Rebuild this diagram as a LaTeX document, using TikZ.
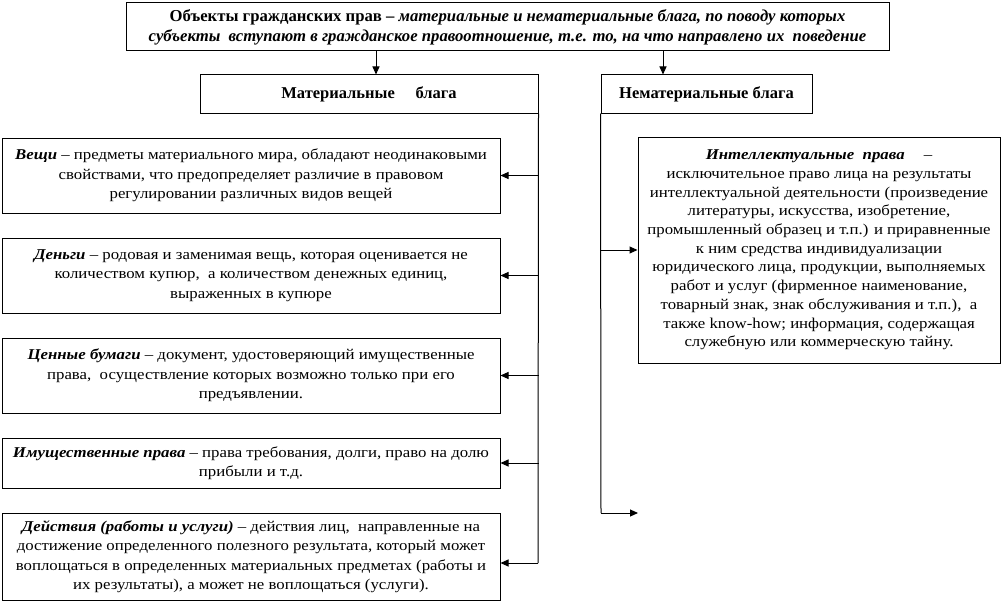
\documentclass[tikz,border=0pt]{standalone}
\usepackage{fontspec}
\setmainfont{Liberation Serif}
\newfontfamily\widefont[FakeStretch=1.12]{Liberation Serif}
\usetikzlibrary{arrows.meta,calc}
\begin{document}
\begin{tikzpicture}[x=1pt,y=-1pt,
  box/.style={draw,line width=1pt,inner sep=0pt,align=center},
  lbox/.style={box,minimum width=498pt,font=\widefont\fontsize{15}{19.5}\selectfont},
  hbox/.style={box,minimum height=38pt,font=\fontsize{16.5}{19}\selectfont\bfseries},
  arr/.style={line width=1pt,-{Triangle[length=8pt,width=7pt]}},
  ln/.style={line width=1pt}]
\useasboundingbox (0,0) rectangle (1002,602);
\node[box,minimum width=763pt,minimum height=48pt,font=\fontsize{16.7}{20}\selectfont\bfseries] (top) at (507.5,27)
  {Объекты гражданских прав – \textit{материальные и нематериальные блага, по поводу которых}\\
   \textit{субъекты \ вступают в гражданское правоотношение, т.е. то, на что направлено их \ поведение}};
\node[hbox,minimum width=338pt] (mat) at (369,94) {Материальные \quad блага};
\node[hbox,minimum width=211pt] (nem) at (706.5,94) {Нематериальные блага};

\node[lbox,minimum height=75pt] (veshi) at (251,175.5)
  {\textbf{\textit{Вещи}} – предметы материального мира, обладают неодинаковыми\\
   свойствами, что предопределяет различие в правовом\\
   регулировании различных видов вещей};
\node[lbox,minimum height=75pt] (dengi) at (251,275.5)
  {\textbf{\textit{Деньги}} – родовая и заменимая вещь, которая оценивается не\\
   количеством купюр, \ а количеством денежных единиц,\\
   выраженных в купюре};
\node[lbox,minimum height=75pt] (cb) at (251,375.5)
  {\textbf{\textit{Ценные бумаги}} – документ, удостоверяющий имущественные\\
   права, \ осуществление которых возможно только при его\\
   предъявлении.};
\node[lbox,minimum height=50pt] (imp) at (251,463)
  {\textbf{\textit{Имущественные права}} – права требования, долги, право на долю\\
   прибыли и т.д.};
\node[lbox,minimum height=87pt] (deist) at (251,556.5)
  {\textbf{\textit{Действия (работы и услуги)}} – действия лиц, \ направленные на\\
   достижение определенного полезного результата, который может\\
   воплощаться в определенных материальных предметах (работы и\\
   их результаты), а может не воплощаться (услуги).};

\node[box,minimum width=362pt,minimum height=226pt,font=\widefont\fontsize{15}{18.7}\selectfont] (intel) at (819,250)
  {\textbf{\textit{Интеллектуальные \ права}} \quad –\\
   исключительное право лица на результаты\\
   интеллектуальной деятельности (произведение\\
   литературы, искусства, изобретение,\\
   промышленный образец и т.п.) и приравненные\\
   к ним средства индивидуализации\\
   юридического лица, продукции, выполняемых\\
   работ и услуг (фирменное наименование,\\
   товарный знак, знак обслуживания и т.п.), \ а\\
   также know-how; информация, содержащая\\
   служебную или коммерческую тайну.};

\coordinate (a1) at (376,0);
\coordinate (a2) at (663,0);
\coordinate (c5) at (538,563);
\coordinate (r2) at (601,513);
\coordinate (r2e) at (638,513);

\draw[arr] (top.south -| a1) -- (mat.north -| a1);
\draw[arr] (top.south -| a2) -- (nem.north -| a2);

\draw[ln] (mat.south east) -- (c5);
\draw[arr] (mat.south east |- veshi.east) -- (veshi.east);
\draw[arr] (mat.south east |- dengi.east) -- (dengi.east);
\draw[arr] (mat.south east |- cb.east) -- (cb.east);
\draw[arr] (mat.south east |- imp.east) -- (imp.east);
\draw[arr] (c5) -- (deist.east |- c5);

\draw[ln] (nem.south west) -- (r2);
\draw[arr] (nem.south west |- intel.west) -- (intel.west);
\draw[arr] (r2) -- (r2e);
\end{tikzpicture}
\end{document}
